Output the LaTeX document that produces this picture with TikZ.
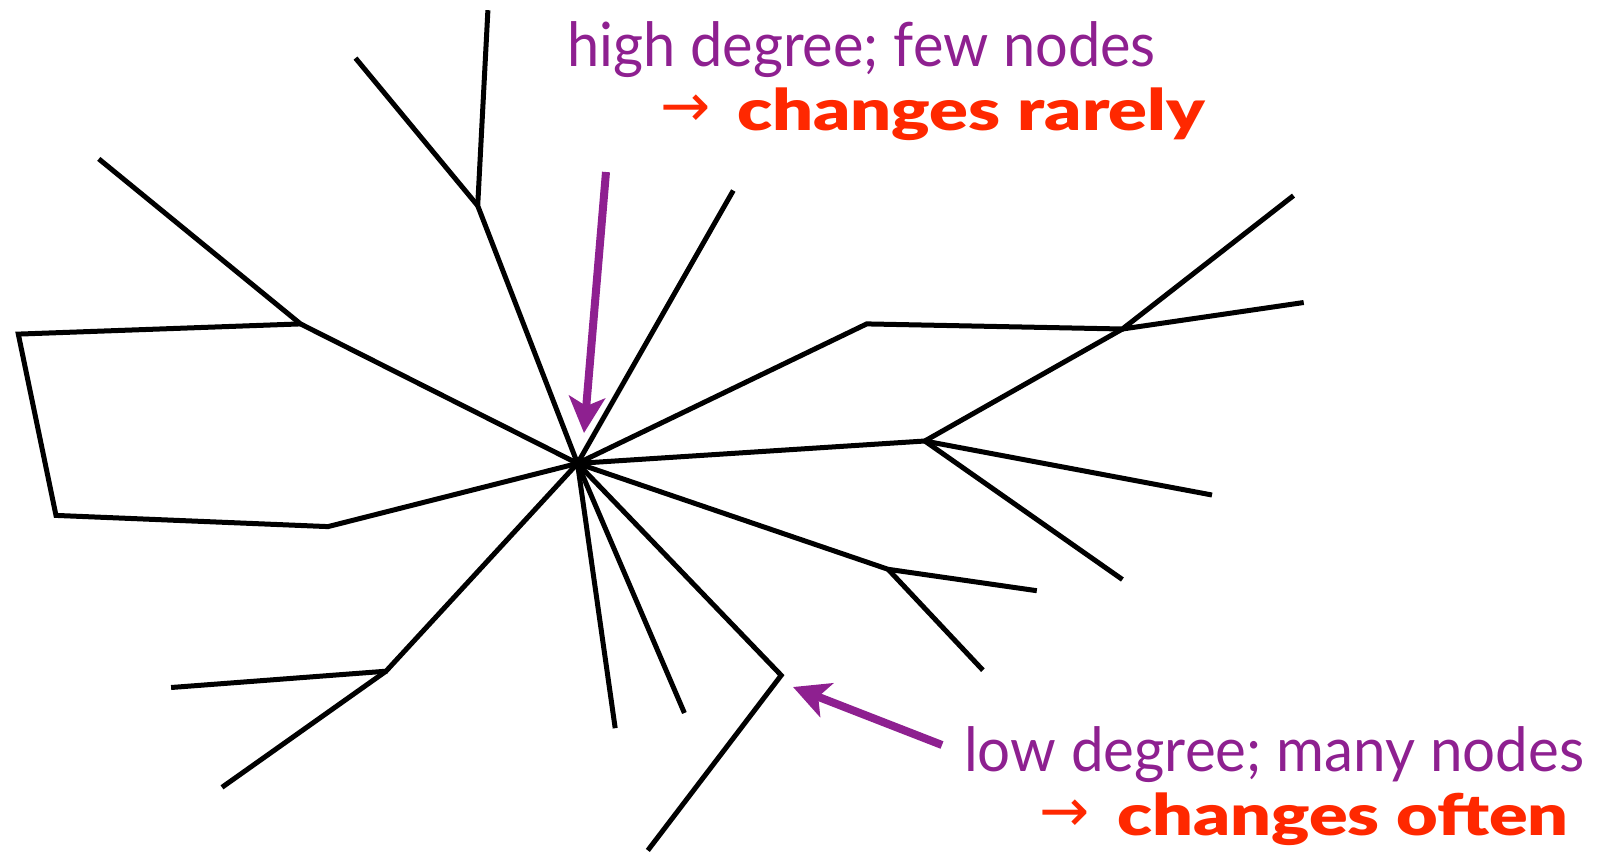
\documentclass[tikz,border=0pt]{standalone}
\usepackage{fontspec}
\setmainfont{Lato}
\newfontfamily\heavy{Lato Black}
\newfontfamily\arrfont{DejaVu Sans}
\usetikzlibrary{arrows.meta}
\definecolor{ppl}{RGB}{142,32,144}
\definecolor{rd}{RGB}{255,40,0}
\tikzset{
  edge/.style={line width=5pt, black, line join=miter},
  pointer/.style={line width=8pt, ppl, -{Stealth[length=36pt,width=36pt,inset=9pt]}},
  lbl/.style={inner sep=0pt, anchor=base west, text=ppl, font=\fontsize{61}{66}\selectfont},
  hot/.style={inner sep=0pt, anchor=base west, text=rd, font=\fontsize{57}{62}\heavy},
  harr/.style={inner sep=0pt, anchor=base west, text=rd, font=\fontsize{60}{64}\arrfont},
}
\begin{document}
\begin{tikzpicture}[x=1pt,y=-1pt]
\useasboundingbox (0,0) rectangle (1597,852);
\coordinate (c) at (577.5,463.4);
\coordinate (a1) at (477.7,205.7);
\coordinate (a1t) at (487.9,10.2);
\coordinate (a1l) at (355.5,58.1);
\coordinate (b) at (300.5,323.9);
\coordinate (bt) at (98.8,158.9);
\coordinate (p1) at (18.3,334.1);
\coordinate (p2) at (56,515.4);
\coordinate (p3) at (328,526.6);
\coordinate (u) at (733.3,190.5);
\coordinate (r1) at (866.7,323.9);
\coordinate (r2) at (1122.4,329);
\coordinate (r2a) at (1293.5,195.6);
\coordinate (r2b) at (1303.7,302.5);
\coordinate (m) at (924.8,441);
\coordinate (ma) at (1212,495);
\coordinate (mb) at (1122.4,579.5);
\coordinate (n) at (888.1,569.3);
\coordinate (na) at (1036.8,590.7);
\coordinate (nb) at (982.9,670.2);
\coordinate (k) at (781.2,675.3);
\coordinate (kb) at (647.8,850.4);
\coordinate (d1) at (684.4,713);
\coordinate (d2) at (615.2,728.2);
\coordinate (l) at (386,671.2);
\coordinate (la) at (171.1,687.5);
\coordinate (lb) at (222,787.3);

\draw[edge] (c) -- (a1) -- (a1t);
\draw[edge] (a1) -- (a1l);
\draw[edge] (bt) -- (b) -- (c);
\draw[edge] (b) -- (p1) -- (p2) -- (p3) -- (c);
\draw[edge] (c) -- (u);
\draw[edge] (c) -- (r1) -- (r2) -- (r2a);
\draw[edge] (r2) -- (r2b);
\draw[edge] (r2) -- (m);
\draw[edge] (c) -- (m) -- (ma);
\draw[edge] (m) -- (mb);
\draw[edge] (c) -- (n) -- (na);
\draw[edge] (n) -- (nb);
\draw[edge] (c) -- (k) -- (kb);
\draw[edge] (c) -- (d1);
\draw[edge] (c) -- (d2);
\draw[edge] (c) -- (l) -- (la);
\draw[edge] (l) -- (lb);

\coordinate (s1) at (606,172);
\coordinate (t1) at (584,433);
\coordinate (s2) at (942,745);
\coordinate (t2) at (793,687);
\draw[pointer] (s1) -- (t1);
\draw[pointer] (s2) -- (t2);

\node[lbl] (hd) at (567,66) {\scalebox{0.946}[1]{high degree; few nodes}};
\node[harr] (ha) at (660,126) {→};
\node[hot] (cr) at (737,130) {\scalebox{1.265}[1]{changes rarely}};
\node[lbl] (ld) at (964,771) {\scalebox{0.955}[1]{low degree; many nodes}};
\node[harr] (la2) at (1039,831) {→};
\node[hot] (co) at (1117,835) {\scalebox{1.26}[1]{changes often}};
\end{tikzpicture}
\end{document}
